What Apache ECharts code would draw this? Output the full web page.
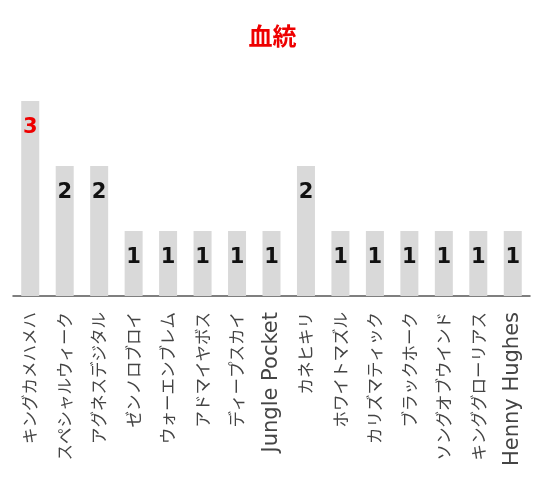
<!DOCTYPE html>
<html>
<head>
<meta charset="utf-8">
<script src="https://cdn.jsdelivr.net/npm/echarts@6/dist/echarts.min.js"></script>
<style>
  html, body { margin: 0; padding: 0; background: #fff; }
  #main { width: 545px; height: 480px; }
</style>
</head>
<body>
<div id="main"></div>
<script>
// 血統データ
var titleText = '血統';
var categories = ['キングカメハメハ', 'スペシャルウィーク', 'アグネスデジタル', 'ゼンノロブロイ', 'ウォーエンブレム',
  'アドマイヤボス', 'ディープスカイ', 'Jungle Pocket', 'カネヒキリ', 'ホワイトマズル',
  'カリズマティック', 'ブラックホーク', 'ソングオブウインド', 'キンググローリアス', 'Henny Hughes'];
var counts = [3, 2, 2, 1, 1, 1, 1, 1, 2, 1, 1, 1, 1, 1, 1];

var maxCount = Math.max.apply(null, counts);

var chart = echarts.init(document.getElementById('main'));
var option = {
  backgroundColor: '#fff',
  animation: false,
  title: {
    text: titleText,
    left: 'center',
    top: 19,
    textStyle: { color: '#ee0000', fontSize: 24, fontWeight: 'bold', fontFamily: 'Noto Sans CJK JP' }
  },
  grid: { left: 13, right: 15, top: 101, bottom: 184, containLabel: false, outerBoundsMode: 'none' },
  xAxis: {
    type: 'category',
    data: categories,
    axisLine: { lineStyle: { color: '#555', width: 1.5 } },
    axisTick: { show: false },
    axisLabel: {
      rotate: 90,
      interval: 0,
      margin: 16,
      color: '#444',
      // 英字とカナでフォントを分ける
      formatter: function (v) {
        return /^[\x00-\x7f]+$/.test(v) ? '{lat|' + v + '}' : '{jp|' + v + '}';
      },
      rich: {
        lat: { fontSize: 21, fontFamily: 'DejaVu Sans', color: '#444' },
        jp: { fontSize: 16.5, fontFamily: 'Noto Sans CJK JP', color: '#444' }
      }
    }
  },
  yAxis: {
    type: 'value',
    min: 0,
    max: maxCount,
    show: false
  },
  series: [{
    type: 'bar',
    data: counts.map(function (v, i) {
      return {
        value: v,
        label: { color: i === 0 ? '#ee0000' : '#111' }
      };
    }),
    barWidth: 18,
    itemStyle: { color: '#d9d9d9' },
    label: {
      show: true,
      position: 'insideTop',
      distance: 16,
      fontSize: 21,
      fontWeight: 'bold',
      fontFamily: 'DejaVu Sans'
    }
  }]
};
chart.setOption(option);
</script>
</body>
</html>
